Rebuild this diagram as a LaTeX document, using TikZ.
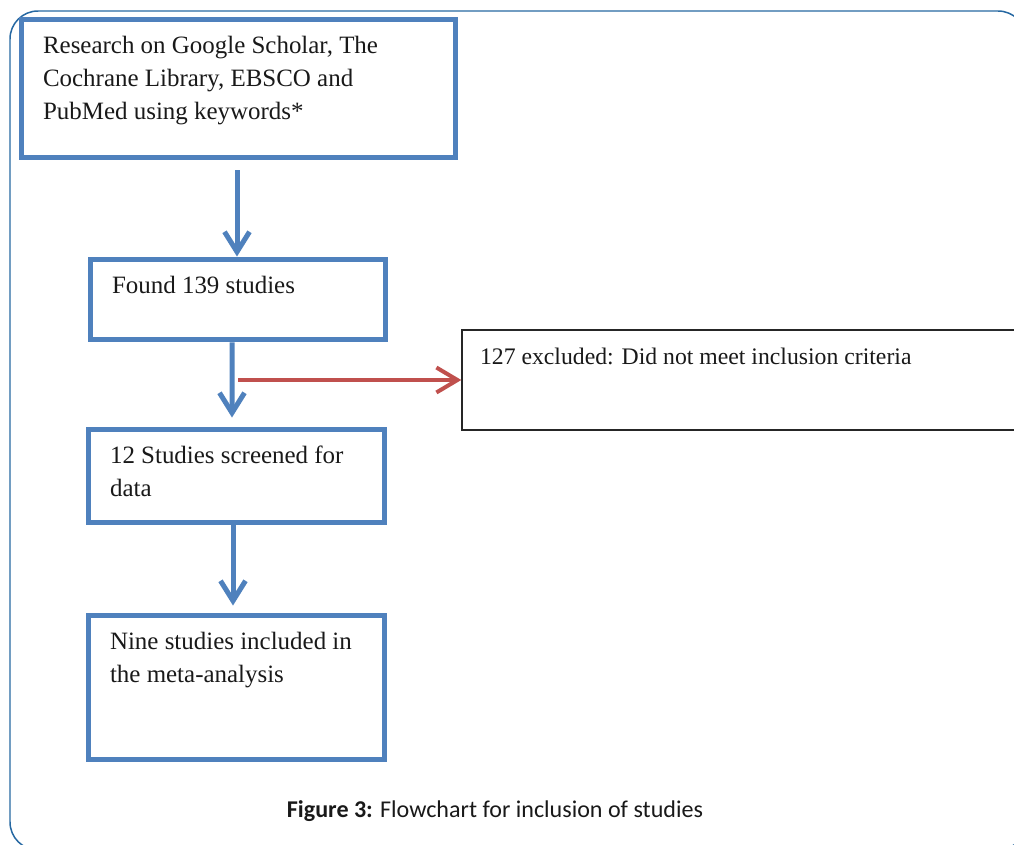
\documentclass[tikz,border=0pt]{standalone}
\usepackage{fontspec}
\setmainfont{Liberation Serif}
\newfontfamily\captionfont{Carlito}
\usetikzlibrary{positioning, arrows.meta, calc}

\definecolor{boxblue}{RGB}{79,129,189}
\definecolor{arrowred}{RGB}{192,80,77}
\definecolor{framecol}{RGB}{38,104,162}

\begin{document}
\begin{tikzpicture}[
  x=0.02cm, y=-0.02cm,
  every node/.style={font=\fontsize{14.2}{18.8}\selectfont, text=black!90},
  flowbox/.style={draw=boxblue, line width=0.1cm, inner xsep=0.44cm, inner ysep=0.22cm},
  excludebox/.style={draw=black!85, line width=0.03cm, inner xsep=0.36cm, inner ysep=0.22cm,
    font=\fontsize{13.5}{18.8}\selectfont},
  flowarrow/.style={draw=boxblue, line width=0.1cm, -{Straight Barb[length=0.4cm, width=0.5cm]}},
  exclarrow/.style={draw=arrowred, line width=0.08cm, -{Straight Barb[length=0.42cm, width=0.5cm]}},
  caption/.style={font=\captionfont\fontsize{13.7}{16}\selectfont}
]
\useasboundingbox (0,0) rectangle (1014,845);

% Page frame
\begin{scope}
  \clip (0,0) rectangle (1014,845);
  \draw[framecol, line width=0.03cm, rounded corners=0.56cm] (10,11) rectangle (1026,850);
\end{scope}

% Flow boxes
\node[flowbox] (search) at (238.5,88.5) {\parbox[c][2.34cm][t]{7.82cm}{\raggedright\strut Research on Google Scholar, The\\ Cochrane Library, EBSCO and\\ PubMed using keywords*}};
\node[flowbox] (found) at (238,299.5) {\parbox[c][1.18cm][t]{5.04cm}{\raggedright\strut Found 139 studies}};
\node[flowbox] (screen) at (236.5,476) {\parbox[c][1.44cm][t]{5.06cm}{\raggedright\strut 12 Studies screened for\\ data}};
\node[flowbox] (incl) at (236.5,687.5) {\parbox[c][2.46cm][t]{5.06cm}{\raggedright\strut Nine studies included in\\ the meta-analysis}};

% Excluded
\node[excludebox] (excl) at (746,380) {\parbox[c][1.56cm][t]{10.64cm}{\raggedright\strut 127 excluded: Did not meet inclusion criteria}};

% Caption
\node[caption, anchor=base] (cap) at (495,817) {\textbf{Figure 3:} Flowchart for inclusion of studies};

% Arrows
\draw[exclarrow] (found.south |- excl.west) -- (excl.west);
\draw[flowarrow, shorten <=0.2cm] ([xshift=-0.02cm]search.south -| found.north) -- ([xshift=-0.02cm]found.north);
\draw[flowarrow, shorten >=0.18cm] ([xshift=-0.12cm]found.south) -- ([xshift=-0.09cm]screen.north);
\draw[flowarrow, shorten >=0.14cm] ([xshift=-0.07cm]screen.south) -- ([xshift=-0.07cm]incl.north);

\end{tikzpicture}
\end{document}
